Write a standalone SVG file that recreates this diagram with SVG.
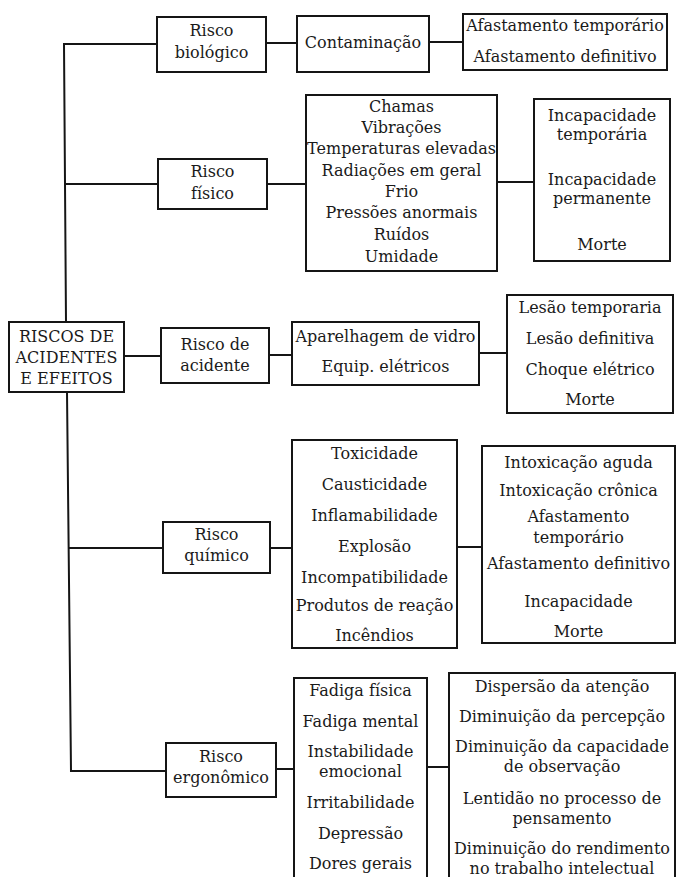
<svg xmlns="http://www.w3.org/2000/svg" width="677" height="877" viewBox="0 0 677 877">
  <style>
    .box { fill: #ffffff; stroke: #151515; stroke-width: 2; }
    .wire { fill: none; stroke: #151515; stroke-width: 2; }
    text { font-family: "DejaVu Serif", "Liberation Serif", serif; font-size: 16px; fill: #1a1a1a; text-anchor: middle; }
  </style>
  <rect width="677" height="877" fill="#ffffff"/>

  <!-- connectors -->
  <g id="connectors">
    <polyline class="wire" points="157,44 64,44 66,322"/>
    <polyline class="wire" points="67,392 71,771 166,771"/>
    <line class="wire" x1="65" y1="184" x2="158" y2="184"/>
    <line class="wire" x1="69" y1="548" x2="163" y2="548"/>
    <line class="wire" x1="124" y1="356" x2="161" y2="356"/>
    <line class="wire" x1="266" y1="43" x2="297" y2="43"/>
    <line class="wire" x1="429" y1="42" x2="463" y2="42"/>
    <line class="wire" x1="267" y1="184" x2="306" y2="184"/>
    <line class="wire" x1="497" y1="182" x2="534" y2="182"/>
    <line class="wire" x1="269" y1="355" x2="292" y2="355"/>
    <line class="wire" x1="479" y1="353" x2="507" y2="353"/>
    <line class="wire" x1="270" y1="548" x2="292" y2="548"/>
    <line class="wire" x1="457" y1="547" x2="482" y2="547"/>
    <line class="wire" x1="276" y1="769" x2="294" y2="769"/>
    <line class="wire" x1="427" y1="767" x2="449" y2="767"/>
  </g>

  <!-- root -->
  <g id="root">
    <rect class="box" x="9" y="322" width="115" height="70"/>
    <text x="66.5" y="342">RISCOS DE</text>
    <text x="66.5" y="363">ACIDENTES</text>
    <text x="66.5" y="384">E EFEITOS</text>
  </g>

  <!-- biological -->
  <g id="risco-biologico">
    <rect class="box" x="157" y="17" width="109" height="55"/>
    <text x="211.5" y="36">Risco</text>
    <text x="211.5" y="58">biológico</text>
  </g>
  <g id="bio-agentes">
    <rect class="box" x="297" y="16" width="132" height="56"/>
    <text x="363" y="48">Contaminação</text>
  </g>
  <g id="bio-efeitos">
    <rect class="box" x="463" y="14" width="204" height="56"/>
    <text x="565" y="31">Afastamento temporário</text>
    <text x="565" y="62">Afastamento definitivo</text>
  </g>

  <!-- physical -->
  <g id="risco-fisico">
    <rect class="box" x="158" y="159" width="109" height="50"/>
    <text x="212.5" y="177">Risco</text>
    <text x="212.5" y="199">físico</text>
  </g>
  <g id="fis-agentes">
    <rect class="box" x="306" y="95" width="191" height="176"/>
    <text x="401.5" y="112">Chamas</text>
    <text x="401.5" y="133">Vibrações</text>
    <text x="401.5" y="154">Temperaturas elevadas</text>
    <text x="401.5" y="176">Radiações em geral</text>
    <text x="401.5" y="197">Frio</text>
    <text x="401.5" y="218">Pressões anormais</text>
    <text x="401.5" y="240">Ruídos</text>
    <text x="401.5" y="262">Umidade</text>
  </g>
  <g id="fis-efeitos">
    <rect class="box" x="534" y="99" width="136" height="162"/>
    <text x="602" y="121">Incapacidade</text>
    <text x="602" y="140">temporária</text>
    <text x="602" y="185">Incapacidade</text>
    <text x="602" y="204">permanente</text>
    <text x="602" y="250">Morte</text>
  </g>

  <!-- accident -->
  <g id="risco-acidente">
    <rect class="box" x="161" y="328" width="108" height="55"/>
    <text x="215" y="350">Risco de</text>
    <text x="215" y="371">acidente</text>
  </g>
  <g id="aci-agentes">
    <rect class="box" x="292" y="322" width="187" height="63"/>
    <text x="385.5" y="342">Aparelhagem de vidro</text>
    <text x="385.5" y="372">Equip. elétricos</text>
  </g>
  <g id="aci-efeitos">
    <rect class="box" x="507" y="295" width="166" height="118"/>
    <text x="590" y="313">Lesão temporaria</text>
    <text x="590" y="344">Lesão definitiva</text>
    <text x="590" y="375">Choque elétrico</text>
    <text x="590" y="405">Morte</text>
  </g>

  <!-- chemical -->
  <g id="risco-quimico">
    <rect class="box" x="163" y="522" width="107" height="51"/>
    <text x="216.5" y="540">Risco</text>
    <text x="216.5" y="561">químico</text>
  </g>
  <g id="qui-agentes">
    <rect class="box" x="292" y="440" width="165" height="208"/>
    <text x="374.5" y="459">Toxicidade</text>
    <text x="374.5" y="490">Causticidade</text>
    <text x="374.5" y="521">Inflamabilidade</text>
    <text x="374.5" y="552">Explosão</text>
    <text x="374.5" y="583">Incompatibilidade</text>
    <text x="374.5" y="611">Produtos de reação</text>
    <text x="374.5" y="641">Incêndios</text>
  </g>
  <g id="qui-efeitos">
    <rect class="box" x="482" y="446" width="193" height="197"/>
    <text x="578.5" y="468">Intoxicação aguda</text>
    <text x="578.5" y="496">Intoxicação crônica</text>
    <text x="578.5" y="522">Afastamento</text>
    <text x="578.5" y="543">temporário</text>
    <text x="578.5" y="569">Afastamento definitivo</text>
    <text x="578.5" y="607">Incapacidade</text>
    <text x="578.5" y="637">Morte</text>
  </g>

  <!-- ergonomic -->
  <g id="risco-ergonomico">
    <rect class="box" x="166" y="743" width="110" height="54"/>
    <text x="221" y="762">Risco</text>
    <text x="221" y="783">ergonômico</text>
  </g>
  <g id="erg-agentes">
    <rect class="box" x="294" y="678" width="133" height="215"/>
    <text x="360.5" y="696">Fadiga física</text>
    <text x="360.5" y="727">Fadiga mental</text>
    <text x="360.5" y="757">Instabilidade</text>
    <text x="360.5" y="777">emocional</text>
    <text x="360.5" y="808">Irritabilidade</text>
    <text x="360.5" y="839">Depressão</text>
    <text x="360.5" y="869">Dores gerais</text>
  </g>
  <g id="erg-efeitos">
    <rect class="box" x="449" y="673" width="226" height="220"/>
    <text x="562" y="692">Dispersão da atenção</text>
    <text x="562" y="722">Diminuição da percepção</text>
    <text x="562" y="752">Diminuição da capacidade</text>
    <text x="562" y="772">de observação</text>
    <text x="562" y="804">Lentidão no processo de</text>
    <text x="562" y="824">pensamento</text>
    <text x="562" y="854">Diminuição do rendimento</text>
    <text x="562" y="874">no trabalho intelectual</text>
  </g>
</svg>
